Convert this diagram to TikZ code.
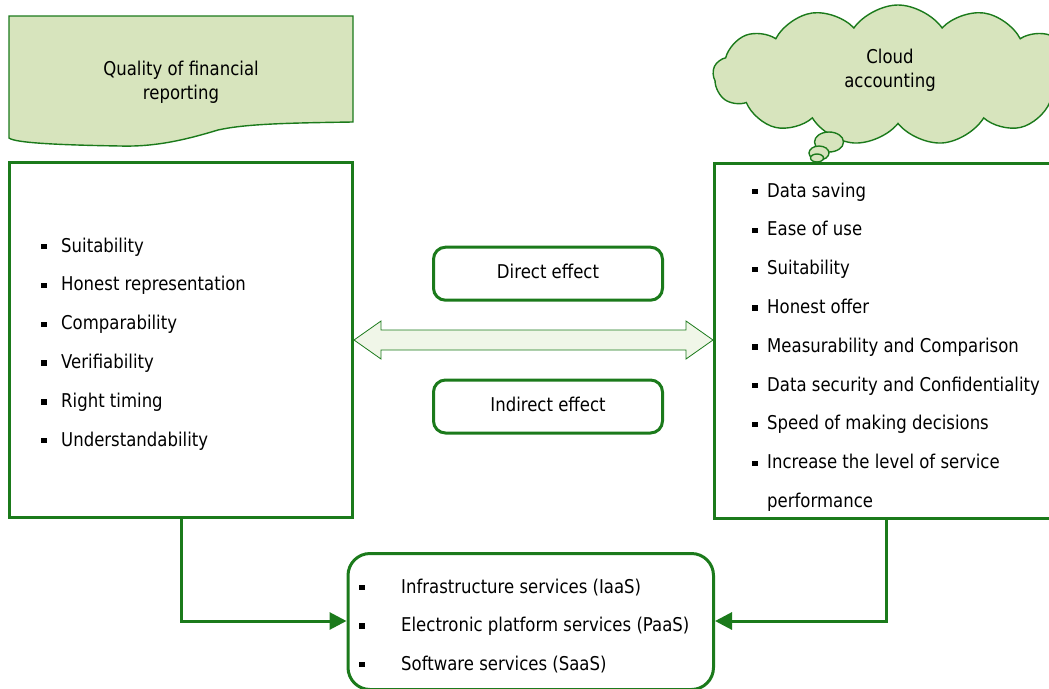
\documentclass[tikz,border=0pt]{standalone}
\usepackage{fontspec}
\setmainfont{DejaVu Sans}[FakeStretch=0.87]
\usetikzlibrary{shapes.symbols,shapes.geometric,arrows.meta,calc}
\definecolor{frame}{RGB}{27,122,27}
\definecolor{leaf}{RGB}{215,228,189}
\definecolor{mist}{RGB}{240,246,232}
% small square bullet followed by a gap of the given width
\newcommand{\sqbul}[1]{\rule[2.6pt]{5.5pt}{5.5pt}\hspace{#1}}

\begin{document}
\begin{tikzpicture}[x=1pt,y=-1pt,
  txt/.style={font=\fontsize{19}{24}\selectfont, inner sep=0pt},
  item/.style={txt, anchor=base west},
  panel/.style={draw=frame, line width=3pt, fill=white, inner sep=0pt},
  pill/.style={panel, rounded corners=12pt, minimum width=229pt, minimum height=53pt,
    font=\fontsize{19}{24}\selectfont, text height=14.4pt, text depth=4pt},
  soft/.style={draw=frame, line width=1.4pt, fill=leaf},
  twoway/.style={draw=frame, line width=0.8pt, fill=mist, line join=miter},
  link/.style={draw=frame, line width=3pt, -{Triangle[length=17pt,width=17pt]}},
]
\useasboundingbox (0,0) rectangle (1049,688);

% heading: document shape with wavy lower edge
\path[soft] (9,16) -- (353,16) -- (353,122)
  .. controls (285,123) and (245,124) .. (218,130)
  .. controls (185,140) and (155,147) .. (120,146)
  .. controls (60,145) and (15,143) .. (9,138) -- cycle;
\node[txt, align=center] (qfr) at (181,82) {Quality of financial\\reporting};

% heading: thought cloud
\node[cloud, soft, cloud puffs=13, cloud puff arc=110, aspect=2.6,
      minimum width=370pt, minimum height=140pt, inner sep=0pt] (cloud) at (898,75) {};
\node[txt, align=center] (cloudtxt) at (890,70) {Cloud\\accounting};
\node[ellipse, soft, minimum width=29pt, minimum height=20pt, inner sep=0pt] (b1) at (829,142) {};
\node[ellipse, soft, minimum width=20pt, minimum height=14pt, inner sep=0pt] (b2) at (819,153) {};
\node[ellipse, soft, minimum width=13pt, minimum height=8pt, inner sep=0pt] (b3) at (817,158) {};

% main panels
\node[panel, minimum width=343pt, minimum height=355pt] (lbox) at (181,340) {};
\node[panel, minimum width=356pt, minimum height=355pt] (rbox) at (892.5,341) {};
\node[panel, rounded corners=22pt, minimum width=365.5pt, minimum height=136pt] (bbox) at (530.75,621.5) {};

% effect labels
\node[pill] (direct) at (548,273.7) {Direct effect};
\node[pill] (indirect) at (548,406.5) {Indirect effect};

% two-way block arrow between the panels
\coordinate (axis) at (533,340);
\coordinate (la) at (lbox.east |- axis);
\coordinate (ra) at (rbox.west |- axis);
\path[twoway] (la) -- ++(27,-19) -- ++(0,9) -- ($(ra)+(-27,-10)$) -- ++(0,-9) -- (ra)
  -- ++(-27,19) -- ++(0,-9) -- ($(la)+(27,10)$) -- ++(0,9) -- cycle;

% left list
\foreach \t [count=\i] in {Suitability, Honest representation, Comparability,
    Verifiability, Right timing, Understandability}
  \node[item] (l\i) at (41,{252+38.8*(\i-1)}) {\sqbul{14.5pt}\t};

% right list
\foreach \t [count=\i] in {Data saving, Ease of use, Suitability, Honest offer,
    Measurability and Comparison, Data security and Confidentiality,
    Speed of making decisions, Increase the level of service}
  \node[item] (r\i) at (752,{197+38.8*(\i-1)}) {\sqbul{9.5pt}\t};
\node[item] (r9) at (767,507.4) {performance};

% bottom list
\foreach \t [count=\i] in {Infrastructure services (IaaS),
    Electronic platform services (PaaS), Software services (SaaS)}
  \node[item] (s\i) at (359,{593+38.5*(\i-1)}) {\sqbul{36.5pt}\t};

% connectors into the service panel
\coordinate (rdrop) at (886,0);
\coordinate (level) at (0,621);
\draw[link] (lbox.south) |- (bbox.west |- level);
\draw[link] (rbox.south -| rdrop) |- (bbox.east |- level);
\end{tikzpicture}
\end{document}
